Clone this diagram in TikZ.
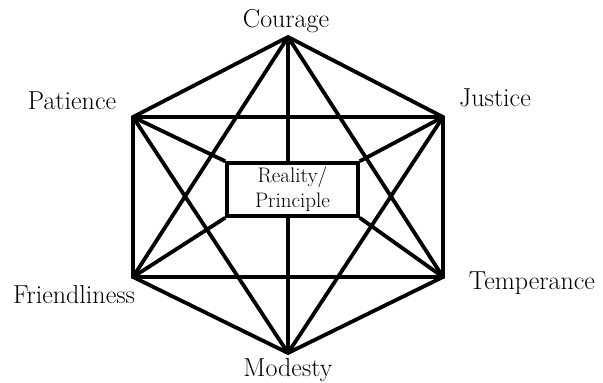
\documentclass[tikz,border=0pt]{standalone}
\usepackage{tikz}
\usetikzlibrary{positioning}

\begin{document}
\begin{tikzpicture}[x=1pt, y=-1pt,
    edge/.style={line width=3.8pt, line join=miter},
    virtue/.style={font=\fontsize{26}{29}\selectfont, inner sep=0pt},
    core/.style={draw, line width=3.5pt, fill=white, minimum width=131pt,
      minimum height=53pt, inner sep=0pt, align=center,
      font=\fontsize{21}{25}\selectfont}]
    \useasboundingbox (0,0) rectangle (603,383);
    % hexagon corners
    \coordinate (cou) at (288,37);
    \coordinate (jus) at (443,117);
    \coordinate (tem) at (443,277);
    \coordinate (mod) at (288,353);
    \coordinate (fri) at (133,277);
    \coordinate (pat) at (133,117);
    \node[core] (box) at (292.5,189.5) {Reality/\\Principle};
    % outer ring and the two triangles
    \draw[edge] (cou) -- (jus) -- (tem) -- (mod) -- (fri) -- (pat) -- cycle;
    \draw[edge] (pat) -- (jus);
    \draw[edge] (fri) -- (tem);
    \draw[edge] (cou) -- (fri);
    \draw[edge] (cou) -- (tem);
    \draw[edge] (mod) -- (pat);
    \draw[edge] (mod) -- (jus);
    % spokes to the centre box
    \draw[edge] (cou) -- (box.north -| cou);
    \draw[edge] (mod) -- (box.south -| mod);
    \draw[edge] (pat) -- (box.north west);
    \draw[edge] (jus) -- (box.north east);
    \draw[edge] (fri) -- (box.south west);
    \draw[edge] (tem) -- (box.south east);
    \node[core] at (box) {Reality/\\Principle};
    % labels
    \node[virtue] (lcou) at (286,21) {Courage};
    \node[virtue] (ljus) at (495,98) {Justice};
    \node[virtue] (ltem) at (532,283) {Temperance};
    \node[virtue] (lmod) at (288,370) {Modesty};
    \node[virtue] (lfri) at (74,295) {Friendliness};
    \node[virtue] (lpat) at (72,101) {Patience};
\end{tikzpicture}
\end{document}
